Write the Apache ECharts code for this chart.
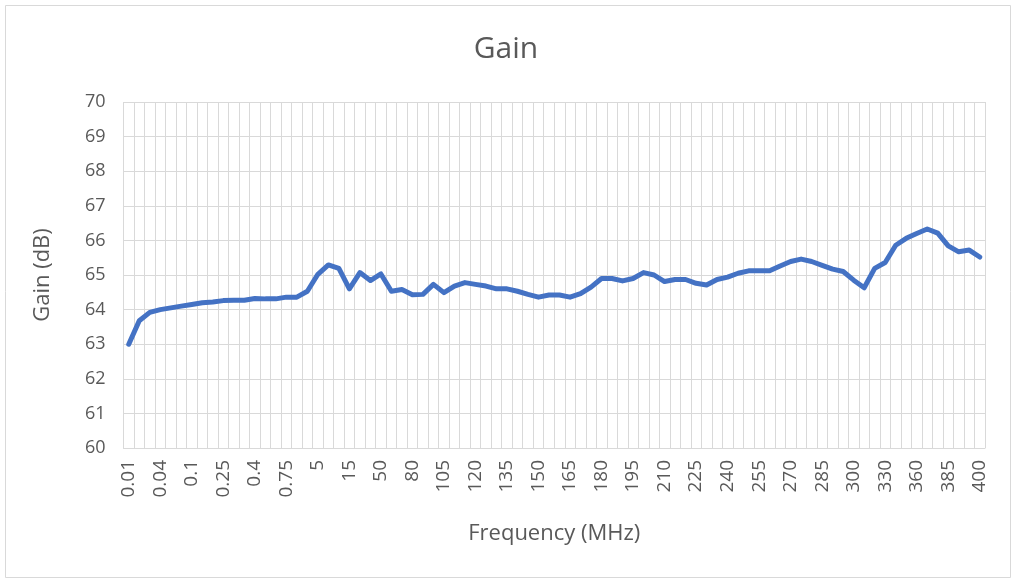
<!DOCTYPE html>
<html>
<head>
<meta charset="utf-8">
<script src="https://cdn.jsdelivr.net/npm/echarts@6/dist/echarts.min.js"></script>
<style>
html,body{margin:0;padding:0;background:#fff;}
#c{width:1012px;height:579px;}
</style>
</head>
<body>
<div id="c"></div>
<script>
var frequencies = ['0.01','0.02','0.03','0.04','0.06','0.08','0.1','0.15','0.2','0.25','0.3','0.35','0.4','0.5','0.6','0.75','1','2','5','8','10','15','20','30','50','60','70','80','90','100','105','110','115','120','125','130','135','140','145','150','155','160','165','170','175','180','185','190','195','200','205','210','215','220','225','230','235','240','245','250','255','260','265','270','275','280','285','290','295','300','310','320','330','340','350','360','370','380','385','390','395','400'];
var gain = [63.0,63.68,63.92,64.0,64.05,64.1,64.15,64.2,64.22,64.26,
64.27,64.27,64.32,64.31,64.31,64.36,64.36,64.53,65.02,65.29,
65.19,64.6,65.07,64.84,65.03,64.53,64.58,64.43,64.44,64.73,
64.49,64.68,64.78,64.73,64.68,64.6,64.6,64.53,64.44,64.36,
64.42,64.42,64.36,64.46,64.65,64.9,64.9,64.83,64.9,65.07,
65.0,64.81,64.87,64.87,64.76,64.71,64.87,64.94,65.05,65.12,
65.12,65.12,65.26,65.39,65.46,65.39,65.28,65.17,65.1,64.85,
64.63,65.19,65.36,65.86,66.06,66.2,66.33,66.21,65.84,65.67,65.72,65.52];
var yMin = 60, yMax = 70, yStep = 1;

var font = '"Open Sans", "Noto Sans", sans-serif';
var txt = '#595959';
var chart = echarts.init(document.getElementById('c'));
chart.setOption({
  animation: false,
  backgroundColor: '#fff',
  graphic: [{type:'rect', left:3, top:3, shape:{width:1005, height:572}, style:{fill:'none', stroke:'#d9d9d9', lineWidth:1}}],
  title: {text:'Gain', left:'center', top:29, textStyle:{fontFamily:font, fontSize:30, fontWeight:'normal', color:txt}},
  grid: {left:123.5, right:27, top:102, bottom:131},
  xAxis: {
    type:'category', data:frequencies, boundaryGap:true,
    name:'Frequency (MHz)', nameLocation:'middle', nameGap:75,
    nameTextStyle:{fontFamily:font, fontSize:22, color:txt},
    axisLine:{lineStyle:{color:'#d9d9d9'}},
    axisTick:{show:false},
    axisLabel:{interval:2, rotate:90, margin:12, fontFamily:font, fontSize:19, color:txt},
    splitLine:{show:true, interval:0, lineStyle:{color:'#d9d9d9', width:1}}
  },
  yAxis: {
    type:'value', min:yMin, max:yMax, interval:yStep,
    name:'Gain (dB)', nameLocation:'middle', nameGap:70,
    nameTextStyle:{fontFamily:font, fontSize:22, color:txt},
    axisLine:{show:false}, axisTick:{show:false},
    axisLabel:{margin:18, fontFamily:font, fontSize:18, color:txt},
    splitLine:{lineStyle:{color:'#d9d9d9', width:1}}
  },
  series: [{type:'line', data:gain, symbol:'none', lineStyle:{color:'#4472C4', width:5, join:'round', cap:'round'}}]
});
</script>
</body>
</html>
